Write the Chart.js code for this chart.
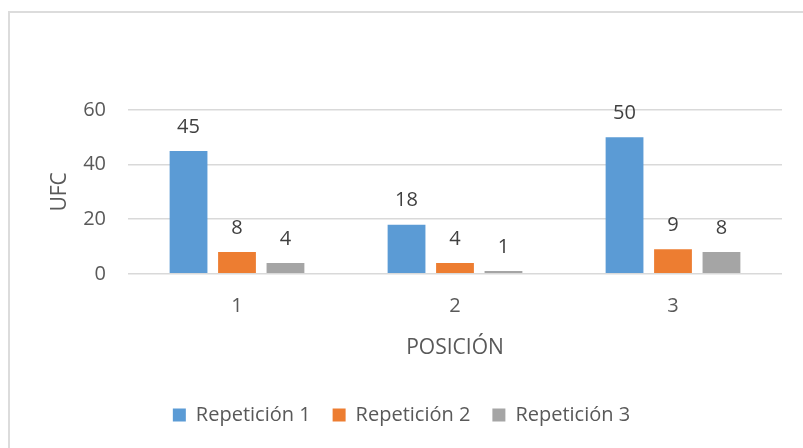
<!DOCTYPE html>
<html>
<head>
<meta charset="utf-8">
<script src="https://cdn.jsdelivr.net/npm/chart.js@4"></script>
<style>
    html, body { margin: 0; padding: 0; background: #fff; }
    #wrap { position: relative; width: 803px; height: 448px; overflow: hidden; }
    #frame {
        position: absolute; left: 8px; top: 11px; width: 900px; height: 500px;
        border-left: 2px solid #dcdcdc; border-top: 2px solid #dcdcdc;
        pointer-events: none;
    }
</style>
</head>
<body>
<div id="wrap">
    <canvas id="ufcChart" width="803" height="448"></canvas>
    <div id="frame"></div>
</div>
<script>
const categories = ['1', '2', '3'];
const seriesNames = ['Repetición 1', 'Repetición 2', 'Repetición 3'];
const rep1 = [45, 18, 50];
const rep2 = [8, 4, 9];
const rep3 = [4, 1, 8];
const yTicks = [0, 20, 40, 60];

const colors = ['#5b9bd5', '#ed7d31', '#a5a5a5'];
const font = "'Open Sans', 'Liberation Sans', sans-serif";

// values above the bars
const valueLabels = {
    id: 'valueLabels',
    afterDatasetsDraw(chart) {
        const c = chart.ctx;
        c.save();
        c.font = '20px ' + font;
        c.fillStyle = '#404040';
        c.textAlign = 'center';
        c.textBaseline = 'bottom';
        chart.data.datasets.forEach((ds, i) => {
            chart.getDatasetMeta(i).data.forEach((bar, j) => {
                c.fillText(ds.data[j], bar.x, bar.y - 14);
            });
        });
        c.restore();
    }
};

new Chart(document.getElementById('ufcChart'), {
    type: 'bar',
    data: {
        labels: categories,
        datasets: [rep1, rep2, rep3].map((vals, i) => ({
            label: seriesNames[i],
            data: vals,
            backgroundColor: colors[i],
            categoryPercentage: 0.667,
            barPercentage: 0.78
        }))
    },
    options: {
        responsive: false,
        animation: false,
        layout: { padding: { left: 21, right: 21, top: 110, bottom: 13 } },
        plugins: {
            legend: {
                position: 'bottom',
                labels: {
                    boxWidth: 13,
                    boxHeight: 13,
                    padding: 22,
                    color: '#595959',
                    font: { family: font, size: 20 }
                }
            },
            tooltip: { enabled: false }
        },
        scales: {
            x: {
                grid: { display: false },
                border: { display: false },
                ticks: { color: '#595959', padding: 12, font: { family: font, size: 20 } },
                title: {
                    display: true,
                    text: 'POSICIÓN',
                    color: '#595959',
                    padding: { top: 6, bottom: 22 },
                    font: { family: font, size: 21 }
                }
            },
            y: {
                min: 0,
                max: 60,
                afterBuildTicks: axis => { axis.ticks = yTicks.map(v => ({ value: v })); },
                afterFit: axis => { axis.width = 107; },
                grid: { color: '#d9d9d9', lineWidth: 1.5, drawTicks: false },
                border: { display: false },
                ticks: { color: '#595959', padding: 22, font: { family: font, size: 20 } },
                title: {
                    display: true,
                    text: 'UFC',
                    color: '#595959',
                    padding: { top: 26, bottom: 11 },
                    font: { family: font, size: 21 }
                }
            }
        }
    },
    plugins: [valueLabels]
});
</script>
</body>
</html>
